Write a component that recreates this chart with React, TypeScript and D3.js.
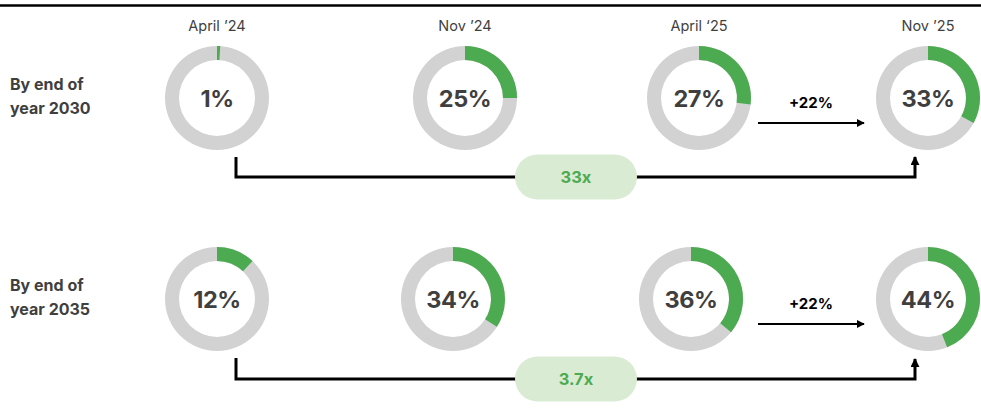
import React from "react";
import * as d3 from "d3";

const periods = ["April \u201924", "Nov \u201924", "April \u201825", "Nov \u201925"];
const rowLabels = [["By end of", "year 2030"], ["By end of", "year 2035"]];
const values2030 = [1, 25, 27, 33];
const values2035 = [12, 34, 36, 44];
const growthLabels = ["+22%", "+22%"];
const multipleLabels = ["33x", "3.7x"];

const W = 981;
const H = 408;
const GREEN = "#4caa50";
const GRAY = "#d2d2d2";
const TEXT = "#3f3f3f";
const FONT = "Inter, 'Open Sans', sans-serif";

const rows = [
  { values: values2030, cy: 98, xs: [217, 465, 699, 928], bracketY: 177, labelY: [90, 114] },
  { values: values2035, cy: 299, xs: [217, 453, 691, 928], bracketY: 379, labelY: [291, 315] },
];

const angle = d3.scaleLinear().domain([0, 100]).range([0, 2 * Math.PI]);
const R_OUT = 52;
const R_IN = 38;
const arc = d3.arc<{ s: number; e: number }>()
  .innerRadius(R_IN)
  .outerRadius(R_OUT)
  .startAngle((d) => d.s)
  .endAngle((d) => d.e);

export default function App() {
  return (
    <svg width={W} height={H} style={{ position: "absolute", left: 0, top: 0, background: "#fff" }}>
      <line x1={0} x2={W} y1={5.5} y2={5.5} stroke="#000" strokeWidth={2.5} />
      <defs>
        <marker id="ah" viewBox="0 0 10 10" refX="9" refY="5" markerWidth="4" markerHeight="4" orient="auto-start-reverse">
          <path d="M0,0 L10,5 L0,10 z" fill="#000" />
        </marker>
        <marker id="ah2" viewBox="0 0 10 10" refX="9" refY="5" markerWidth="3" markerHeight="3" orient="auto">
          <path d="M0,0 L10,5 L0,10 z" fill="#000" />
        </marker>
      </defs>
      {periods.map((p, i) => (
        <text key={p} x={rows[0].xs[i]} y={31} textAnchor="middle" fontFamily={FONT} fontSize={14.5} fill={TEXT}>
          {p}
        </text>
      ))}
      {rows.map((row, ri) => (
        <g key={ri}>
          {rowLabels[ri].map((l, li) => (
            <text key={li} x={10} y={row.labelY[li]} fontFamily={FONT} fontWeight={700} fontSize={16} fill={TEXT}>
              {l}
            </text>
          ))}
          {row.values.map((v, i) => (
            <g key={i} transform={`translate(${row.xs[i]},${row.cy})`}>
              <path d={arc({ s: 0, e: 2 * Math.PI }) || ""} fill={GRAY} />
              <path d={arc({ s: 0, e: Math.max(angle(v), 0.012) }) || ""} fill={GREEN} />
              <text y={8.5} textAnchor="middle" fontFamily={FONT} fontWeight={700} fontSize={23.5} letterSpacing={-0.4} fill={TEXT}>
                {v}%
              </text>
            </g>
          ))}
          <text x={811} y={row.cy + 10} textAnchor="middle" fontFamily={FONT} fontWeight={700} fontSize={15} fill="#000">
            {growthLabels[ri]}
          </text>
          <line x1={758} x2={864} y1={row.cy + 25} y2={row.cy + 25} stroke="#000" strokeWidth={2} markerEnd="url(#ah)" />
          <path
            d={`M236,${row.cy + 59} V${row.bracketY} H915 V${row.bracketY - 20}`}
            fill="none"
            stroke="#000"
            strokeWidth={3}
            markerEnd="url(#ah2)"
          />
          <rect x={515} y={row.bracketY - 22.5} width={122} height={45} rx={22.5} fill="#d9ebd3" />
          <text x={576} y={row.bracketY + 6} textAnchor="middle" fontFamily={FONT} fontWeight={700} fontSize={16.5} fill={GREEN}>
            {multipleLabels[ri]}
          </text>
        </g>
      ))}
    </svg>
  );
}
